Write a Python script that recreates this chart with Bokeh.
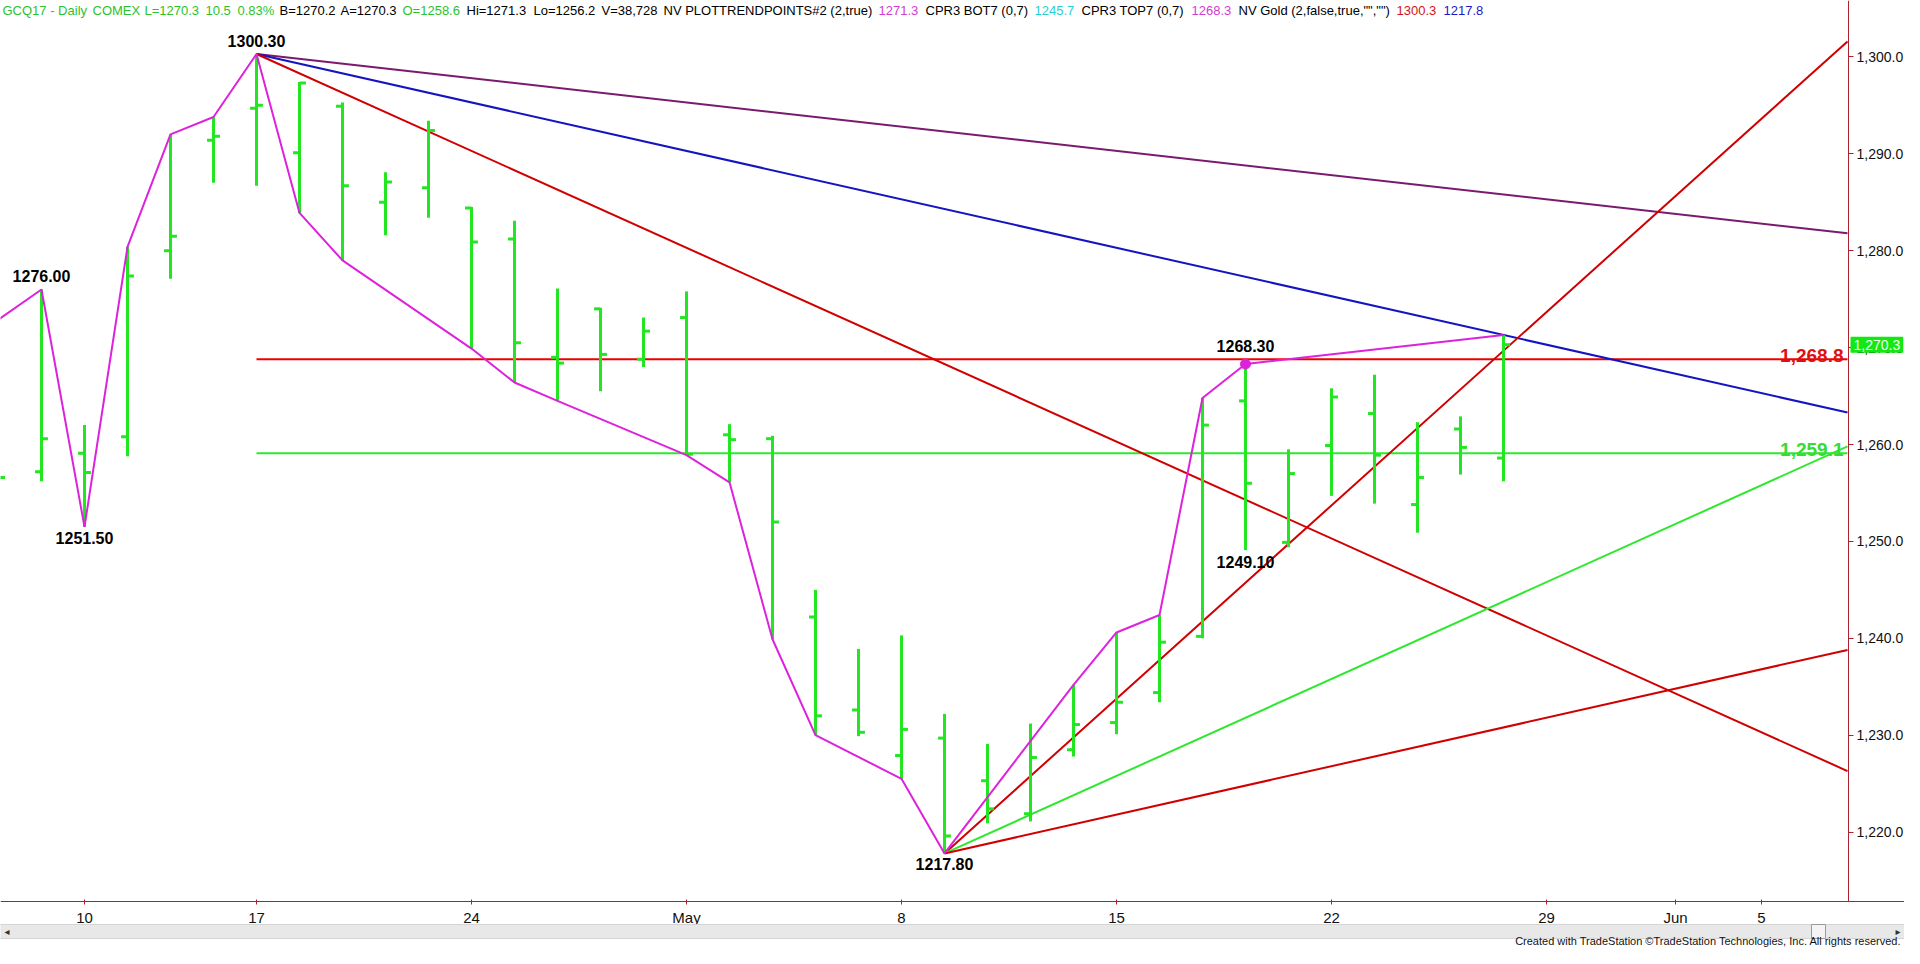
import pandas as pd
from bokeh.plotting import figure
from bokeh.models import (Range1d, FixedTicker, NumeralTickFormatter, Label, LinearAxis,
                          BoxAnnotation, ColumnDataSource)
from bokeh.core.properties import value
from bokeh.embed import file_html
from bokeh.resources import INLINE

# ---------------- data ----------------
CAL = pd.bdate_range("2017-04-05", "2017-06-09").drop(pd.Timestamp("2017-04-14"))

BAR_DATES = ["2017-04-06", "2017-04-07", "2017-04-10", "2017-04-11", "2017-04-12", "2017-04-13",
             "2017-04-17", "2017-04-18", "2017-04-19", "2017-04-20", "2017-04-21",
             "2017-04-24", "2017-04-25", "2017-04-26", "2017-04-27", "2017-04-28",
             "2017-05-01", "2017-05-02", "2017-05-03", "2017-05-04", "2017-05-05",
             "2017-05-08", "2017-05-09", "2017-05-10", "2017-05-11", "2017-05-12",
             "2017-05-15", "2017-05-16", "2017-05-17", "2017-05-18", "2017-05-19",
             "2017-05-22", "2017-05-23", "2017-05-24", "2017-05-25", "2017-05-26"]
OPEN = [1261.3, 1257.2, 1259.1, 1260.8, 1280.0, 1291.4, 1294.7, 1290.1, 1294.9, 1285.0, 1286.5,
        1284.4, 1281.2, 1269.0, 1274.0, 1268.8, 1273.1, 1261.0, 1260.6, 1242.2, 1232.6,
        1227.9, 1229.7, 1225.3, 1221.9, 1228.5, 1231.3, 1234.4, 1240.2, 1264.5, 1249.9,
        1259.9, 1263.2, 1253.8, 1261.6, 1258.6]
HIGH = [1263.6, 1276.0, 1262.0, 1280.4, 1292.0, 1293.8, 1300.3, 1297.4, 1295.3, 1288.1, 1293.4,
        1284.5, 1283.1, 1276.1, 1274.1, 1273.1, 1275.8, 1262.1, 1260.9, 1245.0, 1238.9,
        1240.3, 1232.2, 1229.1, 1231.2, 1235.2, 1240.6, 1242.4, 1264.8, 1268.3, 1259.5,
        1265.8, 1267.2, 1262.3, 1262.9, 1271.3]
LOW = [1254.4, 1256.2, 1251.5, 1258.8, 1277.1, 1287.0, 1286.7, 1283.9, 1279.0, 1281.6, 1283.4,
       1269.9, 1266.4, 1264.5, 1265.5, 1268.0, 1258.9, 1256.1, 1239.9, 1230.0, 1229.9,
       1225.5, 1217.8, 1220.9, 1221.1, 1227.8, 1230.1, 1233.4, 1240.0, 1249.1, 1249.4,
       1254.7, 1253.9, 1250.9, 1256.9, 1256.2]
CLOSE = [1256.6, 1260.6, 1257.1, 1277.4, 1281.5, 1291.8, 1295.0, 1297.3, 1286.7, 1287.1, 1292.4,
         1280.9, 1270.5, 1268.4, 1269.3, 1271.7, 1259.0, 1260.5, 1252.0, 1232.0, 1230.3,
         1230.6, 1219.6, 1222.4, 1227.7, 1231.1, 1233.4, 1239.6, 1262.0, 1256.0, 1257.0,
         1264.9, 1258.9, 1256.6, 1259.7, 1270.3]

SWING_DATES = ["2017-04-05", "2017-04-07", "2017-04-10", "2017-04-11", "2017-04-12", "2017-04-13",
               "2017-04-17", "2017-04-18", "2017-04-19", "2017-04-24", "2017-04-25", "2017-04-26",
               "2017-05-01", "2017-05-02", "2017-05-03", "2017-05-04", "2017-05-08", "2017-05-09",
               "2017-05-12", "2017-05-15", "2017-05-16", "2017-05-17", "2017-05-18", "2017-05-26"]
SWING_VALS = [1269.8, 1276.0, 1251.5, 1280.4, 1292.0, 1293.8,
              1300.3, 1283.9, 1279.0, 1269.9, 1266.4, 1264.5,
              1258.9, 1256.1, 1239.9, 1230.0, 1225.5, 1217.8,
              1235.2, 1240.6, 1242.4, 1264.8, 1268.3, 1271.3]

PIVOT_DATES = ["2017-04-07", "2017-04-10", "2017-04-17", "2017-05-09", "2017-05-18", "2017-05-18"]
PIVOT_VALS = [1276.00, 1251.50, 1300.30, 1217.80, 1268.30, 1249.10]
PIVOT_SIDE = ["above", "below", "above", "below", "above", "below"]

DOT_DATE = ["2017-05-18"]
DOT_VAL = [1268.3]

TL_START = ["2017-04-17", "2017-04-17", "2017-04-17", "2017-05-09", "2017-05-09", "2017-05-09"]
TL_Y0 = [1300.3, 1300.3, 1300.3, 1217.8, 1217.8, 1217.8]
TL_END = ["2017-06-07"] * 6
TL_Y1 = [1281.8, 1263.3, 1226.3, 1301.6, 1259.8, 1238.8]

LEVELS = [1268.8, 1259.1]
LEVEL_START = ["2017-04-17", "2017-04-17"]
LEVEL_END = ["2017-06-07", "2017-06-07"]

LAST_PRICE = 1270.3

Y_TICKS = [1220, 1230, 1240, 1250, 1260, 1270, 1280, 1290, 1300]
X_TICK_DATES = ["2017-04-10", "2017-04-17", "2017-04-24", "2017-05-01", "2017-05-08",
                "2017-05-15", "2017-05-22", "2017-05-29", "2017-06-01", "2017-06-05"]
X_TICK_LABELS = ["10", "17", "24", "May", "8", "15", "22", "29", "Jun", "5"]

HEADER = [("GCQ17 - Daily", "g"), ("COMEX", "g"), ("L=1270.3", "g"), ("10.5", "g"), ("0.83%", "g"),
          ("B=1270.2", "k"), ("A=1270.3", "k"), ("O=1258.6", "g"), ("Hi=1271.3", "k"),
          ("Lo=1256.2", "k"), ("V=38,728", "k"), ("NV PLOTTRENDPOINTS#2 (2,true)", "k"),
          ("1271.3", "m"), ("CPR3 BOT7 (0,7)", "k"), ("1245.7", "c"), ("CPR3 TOP7 (0,7)", "k"),
          ("1268.3", "m"), ('NV Gold (2,false,true,"","")', "k"), ("1300.3", "r"), ("1217.8", "b")]
HEADER_X = [10, 100, 152, 213, 245, 287, 348, 410, 474, 541, 609, 671,
            886, 933, 1042, 1089, 1199, 1246, 1404, 1451]
COPYRIGHT = "Created with TradeStation \u00a9TradeStation Technologies, Inc. All rights reserved."


def pos(d):
    return int(CAL.get_loc(pd.Timestamp(d)))


# ---------------- layout / style ----------------
# figure spans reference pixels 8..1912 x 8..956 (page margin 8px)
W, H = 1904, 948
REF_X0 = 92.0          # reference pixel x of Apr 10
BAR_PX = 43.0          # pixels per trading day
REF_Y1300 = 64.4       # reference pixel y of 1300.0
PX_PER_PT = 9.69
X0 = pos("2017-04-10")
XMIN = X0 + (8 - REF_X0) / BAR_PX
XMAX = X0 + (8 + W - REF_X0) / BAR_PX
YMAX = 1300 + (REF_Y1300 - 8) / PX_PER_PT
YMIN = 1300 - (8 + H - REF_Y1300) / PX_PER_PT
X_AXIS_AT = 1300 - (909 - REF_Y1300) / PX_PER_PT     # value where the date axis sits
Y_AXIS_AT = X0 + (1856 - REF_X0) / BAR_PX            # index where the price axis sits


def ax(ref_x):
    return XMIN + (ref_x - 8) / BAR_PX


def ay(ref_y):
    return YMAX - (ref_y - 8) / PX_PER_PT


FONT = "Liberation Sans"
BAR_GREEN = "#22E622"
LINE_GREEN = "#2EE82E"
MAG = "#DD22DD"
RED_H = "#EE0000"
RED_T = "#D00000"
BLUE = "#1414C0"
PURPLE = "#7A1A6E"
AXIS_RED = "#B0202A"
HCOL = {"g": "#2DC22D", "k": "#000000", "m": "#D23CD2", "c": "#2CCFCF", "r": "#D41414", "b": "#1A1AC8"}

p = figure(width=W, height=H, x_range=Range1d(XMIN, XMAX), y_range=Range1d(YMIN, YMAX),
           output_backend="svg", toolbar_location=None,
           x_axis_location=None, y_axis_location=None,
           min_border_left=0, min_border_top=0, min_border_right=0, min_border_bottom=0)
p.background_fill_color = "white"
p.border_fill_color = "white"
p.outline_line_color = None
p.grid.visible = False

# axes (drawn at fixed locations inside the canvas, like the TradeStation frame)
yax = LinearAxis(fixed_location=Y_AXIS_AT, bounds=(X_AXIS_AT, YMAX),
                 ticker=FixedTicker(ticks=Y_TICKS), formatter=NumeralTickFormatter(format="0,0.0"))
xax = LinearAxis(fixed_location=X_AXIS_AT, bounds=(XMIN, XMAX),
                 ticker=FixedTicker(ticks=[pos(d) for d in X_TICK_DATES]))
xax.major_label_overrides = {pos(d): lab for d, lab in zip(X_TICK_DATES, X_TICK_LABELS)}
for axis in (xax, yax):
    axis.axis_line_color = AXIS_RED
    axis.axis_line_width = 1
    axis.major_tick_line_color = AXIS_RED
    axis.minor_tick_line_color = None
    axis.major_label_text_font = FONT
    axis.major_label_text_color = "#111111"
yax.major_tick_out = 5
yax.major_tick_in = 0
yax.major_label_standoff = 3
yax.major_label_text_font_size = "14px"
xax.major_tick_out = 3
xax.major_tick_in = 2
xax.major_label_standoff = 4
xax.major_label_text_font_size = "15px"
p.add_layout(yax, "right")
p.add_layout(xax, "below")

# horizontal levels
p.segment(x0=[pos(d) for d in LEVEL_START], y0=LEVELS, x1=[pos(d) for d in LEVEL_END], y1=LEVELS,
          line_color=[RED_H, LINE_GREEN], line_width=2)

# trend lines
p.segment(x0=[pos(d) for d in TL_START], y0=TL_Y0, x1=[pos(d) for d in TL_END], y1=TL_Y1,
          line_color=[PURPLE, BLUE, RED_T, RED_T, LINE_GREEN, RED_T], line_width=2)

# OHLC bars
bx = [pos(d) for d in BAR_DATES]
TW = 0.15
src = ColumnDataSource(dict(x=bx, xl=[x - TW for x in bx], xr=[x + TW for x in bx],
                            o=OPEN, h=HIGH, l=LOW, c=CLOSE))
p.segment(x0="x", y0="l", x1="x", y1="h", source=src, line_color=BAR_GREEN, line_width=3,
          line_cap="butt")
p.segment(x0="xl", y0="o", x1="x", y1="o", source=src, line_color=BAR_GREEN, line_width=3,
          line_cap="butt")
p.segment(x0="x", y0="c", x1="xr", y1="c", source=src, line_color=BAR_GREEN, line_width=3,
          line_cap="butt")

# swing line and dot
p.line([pos(d) for d in SWING_DATES], SWING_VALS, line_color=MAG, line_width=2)
p.scatter([pos(d) for d in DOT_DATE], DOT_VAL, size=10, color=MAG)

# pivot labels
PIVOT_OFF = [13, 11, 13, 11, 18, 12]
py_ = [v + (o / PX_PER_PT if s == "above" else -o / PX_PER_PT)
       for v, s, o in zip(PIVOT_VALS, PIVOT_SIDE, PIVOT_OFF)]
p.text(x=[pos(d) for d in PIVOT_DATES], y=py_, text=["%.2f" % v for v in PIVOT_VALS],
       text_align="center", text_baseline="middle", text_font=value(FONT),
       text_font_size="16px", text_font_style="bold", text_color="black")

# level labels
p.text(x=[ax(1851)] * 2, y=[v + 4 / PX_PER_PT for v in LEVELS],
       text=["{:,.1f}".format(v) for v in LEVELS],
       text_align="right", text_baseline="alphabetic", text_font=value(FONT),
       text_font_size="19px", text_font_style="bold", text_color=["#E01010", "#33DD33"])

# header
for (txt, col), hx in zip(HEADER, HEADER_X):
    p.add_layout(Label(x=ax(hx), y=ay(18), text=txt, text_align="left", text_baseline="middle",
                       text_font=FONT, text_font_size="13px", text_color=HCOL[col]))

# last price marker on the price axis
lp = Label(x=Y_AXIS_AT, y=LAST_PRICE, x_offset=2, text="{:,.1f}".format(LAST_PRICE),
           text_align="left", text_baseline="middle", text_font=FONT, text_font_size="14px",
           text_color="#F4FFF4", background_fill_color="#12E812", background_fill_alpha=1.0)
try:
    lp.padding = 3
except Exception:
    pass
p.add_layout(lp)

# scroll bar & copyright
p.add_layout(BoxAnnotation(left=XMIN - 1, right=XMAX + 3, top=ay(932), bottom=ay(946),
                           fill_color="#E8E8E8", fill_alpha=1, line_color="#D4D4D4", line_alpha=1))
p.add_layout(BoxAnnotation(left=ax(1819), right=ax(1833), top=ay(932), bottom=ay(946),
                           fill_color="#F4F4F4", fill_alpha=1, line_color="#9A9A9A", line_alpha=1))
p.add_layout(Label(x=ax(12), y=ay(939), text="\u25c2", text_align="left", text_baseline="middle",
                   text_font="DejaVu Sans", text_font_size="10px", text_color="#333333"))
p.add_layout(Label(x=ax(1908), y=ay(939), text="\u25b8", text_align="right", text_baseline="middle",
                   text_font="DejaVu Sans", text_font_size="10px", text_color="#333333"))
p.add_layout(Label(x=ax(1909), y=ay(954), text=COPYRIGHT, text_align="right", text_baseline="bottom",
                   text_font=FONT, text_font_size="11px", text_color="#111111"))

open("out.html", "w").write(file_html(p, INLINE))
